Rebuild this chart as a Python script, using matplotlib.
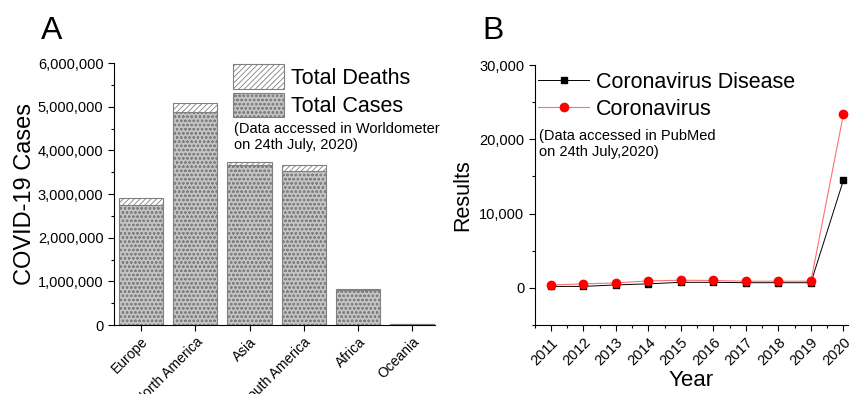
import matplotlib.pyplot as plt
from matplotlib.patches import Patch
from matplotlib.lines import Line2D
from matplotlib.ticker import FuncFormatter, MultipleLocator

plt.rcParams['font.family'] = ['Liberation Sans', 'DejaVu Sans']
plt.rcParams['hatch.linewidth'] = 0.6

# panel A data (Worldometer, 24 July 2020)
continents = ['Europe', 'North America', 'Asia', 'South America', 'Africa', 'Oceania']
total_cases = [2760000, 4880000, 3660000, 3520000, 800000, 16000]
total_deaths = [150000, 200000, 80000, 140000, 17000, 200]

# panel B data (PubMed results)
years = [2011, 2012, 2013, 2014, 2015, 2016, 2017, 2018, 2019, 2020]
coronavirus_disease = [200, 200, 400, 550, 750, 750, 700, 700, 700, 14500]
coronavirus = [400, 540, 670, 940, 1030, 1000, 900, 900, 900, 23380]

comma = FuncFormatter(lambda v, p: '{:,.0f}'.format(v))

fig = plt.figure(figsize=(8.5, 3.94), dpi=100)

# ---- A ----
ax1 = fig.add_axes([0.134, 0.175, 0.378, 0.665])
x = range(len(continents))
ax1.bar(x, total_cases, width=0.815, color='#c4c4c4', edgecolor='#808080',
        hatch='oooo', linewidth=0.8)
ax1.bar(x, total_deaths, width=0.815, bottom=total_cases, color='white',
        edgecolor='#808080', hatch='//////', linewidth=0.8)
ax1.set_xlim(-0.5, 5.42)
ax1.set_ylim(0, 6000000)
ax1.yaxis.set_major_locator(MultipleLocator(1000000))
ax1.yaxis.set_minor_locator(MultipleLocator(500000))
ax1.yaxis.set_major_formatter(comma)
ax1.set_xticks(list(x))
ax1.set_xticklabels(continents, rotation=45, ha='right', rotation_mode='anchor', fontsize=10)
ax1.set_ylabel('COVID-19 Cases', fontsize=17, labelpad=1)
ax1.tick_params(axis='y', labelsize=10.5)
ax1.tick_params(direction='out', length=4, width=0.8)
ax1.tick_params(which='minor', direction='out', length=2.5, width=0.8)
ax1.tick_params(axis='x', pad=3)
for s in ['top', 'right']:
    ax1.spines[s].set_visible(False)

h1 = [Patch(facecolor='white', edgecolor='#808080', hatch='//////', linewidth=0.8),
      Patch(facecolor='#c4c4c4', edgecolor='#808080', hatch='oooo', linewidth=0.8)]
ax1.legend(h1, ['Total Deaths', 'Total Cases'], loc='upper left',
           bbox_to_anchor=(0.37, 0.995), frameon=False, fontsize=15.5,
           handlelength=2.4, handleheight=1.35, handletextpad=0.3,
           borderpad=0, borderaxespad=0, labelspacing=0.2)
ax1.text(0.373, 0.775, '(Data accessed in Worldometer\non 24th July, 2020)',
         transform=ax1.transAxes, fontsize=10.5, va='top', ha='left', linespacing=1.2)
fig.text(0.048, 0.96, 'A', fontsize=23, va='top')

# ---- B ----
ax2 = fig.add_axes([0.629, 0.175, 0.369, 0.66])
ax2.plot(years, coronavirus_disease, color='black', marker='s', markersize=5,
         linewidth=0.7, label='Coronavirus Disease')
ax2.plot(years, coronavirus, color='#ff7070', marker='o', markersize=6,
         markerfacecolor='red', markeredgecolor='red', linewidth=0.8, label='Coronavirus')
ax2.set_xlim(2010.5, 2020.15)
ax2.set_ylim(-5000, 30000)
ax2.set_xticks(years)
ax2.set_xticklabels([str(y) for y in years], rotation=45, ha='right',
                    rotation_mode='anchor', fontsize=10.5)
ax2.xaxis.set_minor_locator(MultipleLocator(0.5))
ax2.yaxis.set_major_locator(MultipleLocator(10000))
ax2.yaxis.set_minor_locator(MultipleLocator(5000))
ax2.yaxis.set_major_formatter(comma)
ax2.tick_params(axis='y', labelsize=10.5)
ax2.tick_params(direction='out', length=4, width=0.8)
ax2.tick_params(which='minor', direction='out', length=2.5, width=0.8)
ax2.set_xlabel('Year', fontsize=16, labelpad=1)
ax2.set_ylabel('Results', fontsize=15.5)
for s in ['top', 'right']:
    ax2.spines[s].set_visible(False)

h2 = [Line2D([], [], color='black', marker='s', markersize=5, linewidth=0.7),
      Line2D([], [], color='#ff7070', marker='o', markersize=6,
             markerfacecolor='red', markeredgecolor='red', linewidth=0.8)]
ax2.legend(h2, ['Coronavirus Disease', 'Coronavirus'], loc='upper left',
           bbox_to_anchor=(0.01, 0.975), frameon=False, fontsize=15.5,
           handlelength=2.4, handletextpad=0.3, borderpad=0, borderaxespad=0,
           labelspacing=0.3)
ax2.text(0.015, 0.755, '(Data accessed in PubMed\non 24th July,2020)',
         transform=ax2.transAxes, fontsize=10.5, va='top', ha='left', linespacing=1.25)
fig.text(0.567, 0.96, 'B', fontsize=23, va='top')

fig.savefig('out.png', dpi=100)
